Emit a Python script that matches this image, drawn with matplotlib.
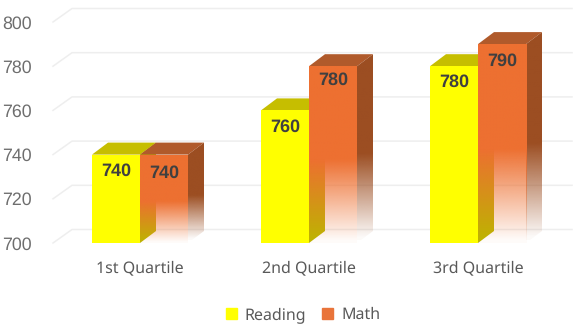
import numpy as np
from matplotlib import pyplot as plt
from matplotlib.patches import Polygon, Patch

quartiles = ["1st Quartile", "2nd Quartile", "3rd Quartile"]
reading = [740, 760, 780]
math_scores = [740, 780, 790]
y_ticks = [700, 720, 740, 760, 780, 800]

# pixel layout of the plot area
W, H = 576, 326
left_px, right_px = 53, 572
bottom_px, top_px = 243, 22
center0_px, step_px = 140, 169
px_per_unit = (bottom_px - top_px) / 100
bar_w = 48 / step_px
dx = 16 / step_px
dy = 12 / px_per_unit
grid_dx = 19 / step_px
grid_dy = 13.5 / px_per_unit
base = 700
fade_frac = 0.47
# how far each label sits below its bar top, in value units
reading_drop = [7.6, 7.7, 7.3]
math_drop = [8.6, 6.5, 7.7]


def faces(ax, x0, val, side_col, top_col, z):
    x1 = x0 + bar_w
    side = Polygon([(x1, base), (x1 + dx, base + dy), (x1 + dx, val + dy), (x1, val)],
                   closed=True, fc=side_col, ec="none", zorder=z, clip_on=False)
    top = Polygon([(x0, val), (x0 + dx, val + dy), (x1 + dx, val + dy), (x1, val)],
                  closed=True, fc=top_col, ec="none", zorder=z, clip_on=False)
    ax.add_patch(side)
    ax.add_patch(top)
    return side, top


def fade(ax, clip, x0, x1, y0, y1, fade_end, col, z):
    ys = np.linspace(y0, y1, 200)
    a = np.clip((ys - y0) / (fade_end - y0), 0.03, 1)
    img = np.zeros((200, 1, 4))
    img[..., :3] = col
    img[..., 3] = a[:, None]
    im = ax.imshow(img, origin="lower", extent=(x0, x1, y0, y1), aspect="auto",
                   interpolation="bilinear", zorder=z)
    im.set_clip_path(clip)
    im.set_clip_on(True)


plt.rcParams["font.family"] = ["Liberation Sans", "DejaVu Sans"]
plt.rcParams["text.hinting"] = "no_hinting"
fig = plt.figure(figsize=(W / 100, H / 100), dpi=100, facecolor="white")
ax = fig.add_axes([left_px / W, 1 - bottom_px / H, (right_px - left_px) / W, (bottom_px - top_px) / H])
xmin = (left_px - center0_px) / step_px
xmax = (right_px - center0_px) / step_px

for t in y_ticks:
    ax.plot([xmin, xmin + grid_dx, xmax], [t, t + grid_dy, t + grid_dy], color="#EEEEEE", lw=1.1,
            zorder=0, clip_on=False)

orange = np.array([237, 112, 49]) / 255
orange_side = np.array([156, 78, 34]) / 255

for i, (r, m) in enumerate(zip(reading, math_scores)):
    # reading bar
    x0 = i - bar_w
    faces(ax, x0, r, "#BDB500", "#C6BE00", 2)
    ax.bar(x0, r - base, bar_w, bottom=base, align="edge", color="#FFFF00", zorder=3)

    # math bar, fades to white towards the floor
    x0 = i
    fade_end = base + (m - base) * fade_frac
    side, top = faces(ax, x0, m, "none", "#B05A2B", 4)
    fade(ax, side, x0 + bar_w, x0 + bar_w + dx, base + dy / 4, m + dy, fade_end + dy / 2, orange_side, 4)
    front = ax.bar(x0, m - base, bar_w, bottom=base, align="edge", color="none", zorder=5)[0]
    fade(ax, front, x0, x0 + bar_w, base, m, fade_end, orange, 5)

    ax.text(i - bar_w / 2, r - reading_drop[i], str(r), ha="center", va="center", fontsize=13,
            fontweight="bold", color="#404040", zorder=6)
    ax.text(i + bar_w / 2, m - math_drop[i], str(m), ha="center", va="center", fontsize=13,
            fontweight="bold", color="#404040", zorder=6)

ax.set_xlim(xmin, xmax)
ax.set_ylim(700, 800)
ax.patch.set_visible(False)
for s in ax.spines.values():
    s.set_visible(False)
ax.set_yticks(y_ticks)
ax.set_xticks(range(3))
ax.set_xticklabels(quartiles, family="Noto Sans", fontsize=11.5, color="#595959")
ax.tick_params(axis="y", length=0, pad=15, labelsize=12.8, labelcolor="#6E6E6E")
ax.tick_params(axis="x", length=0, pad=12)

handles = [Patch(color="#FFFF00", label="Reading"), Patch(color="#E9743A", label="Math")]
fig.legend(handles=handles, loc="center", bbox_to_anchor=(303 / W, 1 - 315 / H), ncol=2, frameon=False,
           prop={"family": "Noto Sans", "size": 11.5}, labelcolor="#595959", handlelength=0.7,
           handleheight=0.7, handletextpad=0.5, columnspacing=1.0, borderpad=0)

fig.savefig("out.png", dpi=100)
